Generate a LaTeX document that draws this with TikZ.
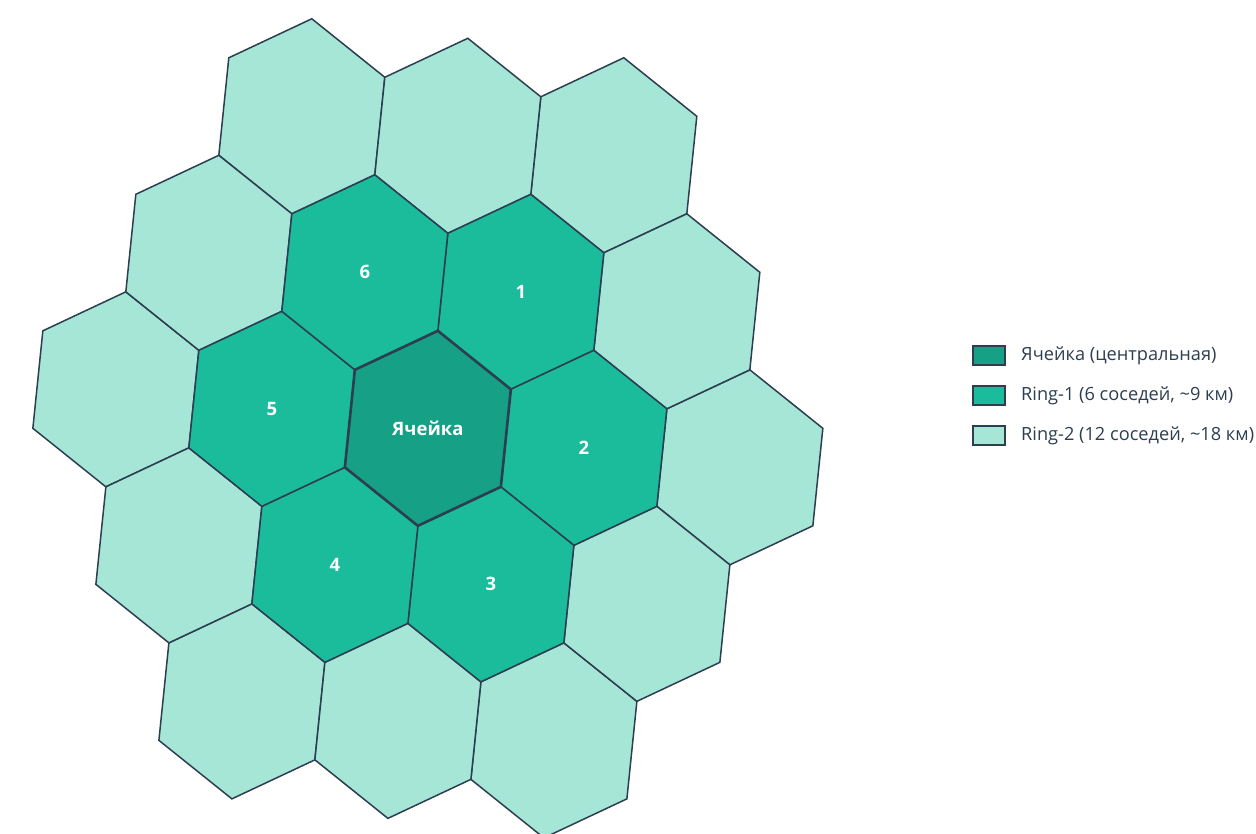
\documentclass[tikz,border=0pt]{standalone}
\usepackage{fontspec}
\setmainfont{Open Sans}
\definecolor{cc}{HTML}{16A085}
\definecolor{rone}{HTML}{1ABC9C}
\definecolor{rtwo}{HTML}{A6E6D7}
\definecolor{ed}{HTML}{2C3E50}
\definecolor{lt}{HTML}{2C3E50}
\tikzset{
  hexring2/.style={fill=rtwo, draw=ed, line width=1.5pt, line join=miter},
  hexring1/.style={fill=rone, draw=ed, line width=1.5pt, line join=miter},
  hexcenter/.style={fill=cc, draw=ed, line width=2.6pt, line join=miter},
  cellnum/.style={text=white, font=\fontsize{18.5}{20}\selectfont\bfseries},
  legbox/.style={draw=ed, line width=2pt, minimum width=32pt, minimum height=19pt, inner sep=0pt},
  legtext/.style={text=lt, anchor=west, inner sep=0pt, font=\fontsize{18.2}{20}\selectfont}
}
\newcommand\hexcell[3]{%
  \begin{scope}[shift={(#1)}]
    \draw[#2] (30:0.57735) -- (90:0.57735) -- (150:0.57735) -- (210:0.57735) -- (270:0.57735) -- (330:0.57735) -- cycle;
    \coordinate (#3) at (0,0);
  \end{scope}}
\begin{document}
\begin{tikzpicture}[x=1pt,y=1pt]
\clip (0,0) rectangle (1256,833);
\begin{scope}[shift={(427.85,404.67)}]
\begin{scope}[x={(156pt,-19.5pt)}, y={(17.3pt,168.9pt)}]
  % ring 2
  \hexcell{2,0}{hexring2}{a1}
  \hexcell{1,1.732}{hexring2}{a2}
  \hexcell{-1,1.732}{hexring2}{a3}
  \hexcell{-2,0}{hexring2}{a4}
  \hexcell{-1,-1.732}{hexring2}{a5}
  \hexcell{1,-1.732}{hexring2}{a6}
  \hexcell{1.5,0.866}{hexring2}{a7}
  \hexcell{0,1.732}{hexring2}{a8}
  \hexcell{-1.5,0.866}{hexring2}{a9}
  \hexcell{-1.5,-0.866}{hexring2}{a10}
  \hexcell{0,-1.732}{hexring2}{a11}
  \hexcell{1.5,-0.866}{hexring2}{a12}
  % ring 1
  \hexcell{0.5,0.866}{hexring1}{p1}
  \hexcell{1,0}{hexring1}{p2}
  \hexcell{0.5,-0.866}{hexring1}{p3}
  \hexcell{-0.5,-0.866}{hexring1}{p4}
  \hexcell{-1,0}{hexring1}{p5}
  \hexcell{-0.5,0.866}{hexring1}{p6}
  % center
  \hexcell{0,0}{hexcenter}{p0}
\end{scope}
\end{scope}
\node[cellnum] (n0) at (p0) {Ячейка};
\node[cellnum] (n1) at (p1) {1};
\node[cellnum] (n2) at (p2) {2};
\node[cellnum] (n3) at (p3) {3};
\node[cellnum] (n4) at (p4) {4};
\node[cellnum] (n5) at (p5) {5};
\node[cellnum] (n6) at (p6) {6};
% legend
\node[legbox, fill=cc] (l1) at (988.5,477) {};
\node[legbox, fill=rone] (l2) at (988.5,437) {};
\node[legbox, fill=rtwo] (l3) at (988.5,397.5) {};
\node[legtext] (t1) at (1021,477) {Ячейка (центральная)};
\node[legtext] (t2) at (1021,437) {Ring-1 (6 соседей, \textasciitilde9 км)};
\node[legtext] (t3) at (1021,397.5) {Ring-2 (12 соседей, \textasciitilde18 км)};
\end{tikzpicture}
\end{document}
